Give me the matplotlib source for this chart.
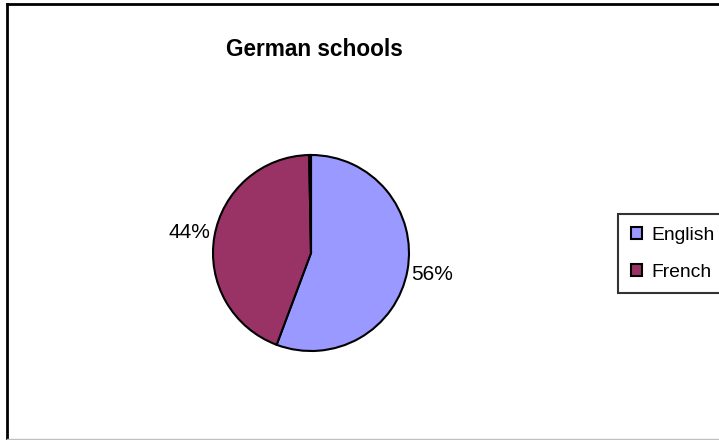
import matplotlib
matplotlib.use('Agg')
import matplotlib.pyplot as plt
from matplotlib.lines import Line2D

plt.rcParams['font.family'] = ['Liberation Sans', 'DejaVu Sans']

title = 'German schools'
categories = ['English', 'French', 'Other']
values = [55.7, 44.0, 0.3]
colors = ['#9999FF', '#993366', '#FFFFFF']
legend_count = 2

W, H = 719, 440
fig = plt.figure(figsize=(W / 100, H / 100), dpi=100)

cx, cy, r = 311, 253, 98
ax = fig.add_axes([(cx - r) / W, (H - cy - r) / H, 2 * r / W, 2 * r / H])


def fmt(p):
    return f'{p:.0f}%' if p >= 1 else ''


wedges, texts, autotexts = ax.pie(
    values, colors=colors, startangle=90, counterclock=False,
    autopct=fmt, pctdistance=1.26,
    wedgeprops=dict(edgecolor='black', linewidth=1.5),
    textprops=dict(fontsize=15, color='black'))
for w in wedges:
    w.set_clip_on(False)
ax.set_xlim(-1, 1)
ax.set_ylim(-1, 1)
ax.set_aspect('equal')
ax.axis('off')

fig.text(314 / W, 1 - 49 / H, title, ha='center', va='center',
         fontsize=16.3, fontweight='bold')

leg = fig.legend(wedges[:legend_count], categories[:legend_count],
                 loc='upper left', bbox_to_anchor=(618 / W, 1 - 214 / H),
                 borderaxespad=0, fontsize=13.9, frameon=True, fancybox=False,
                 edgecolor='black', handlelength=0.57, handleheight=0.57,
                 handletextpad=0.5, labelspacing=1.05, borderpad=0.65)
leg.get_frame().set_linewidth(1.5)
for h in leg.legend_handles:
    h.set_linewidth(1.5)

tf = fig.transFigure
fig.add_artist(Line2D([7 / W, 7 / W], [1 - 439 / H, 1 - 4 / H], color='black', lw=2, transform=tf))
fig.add_artist(Line2D([7 / W, 1], [1 - 4 / H, 1 - 4 / H], color='black', lw=2, transform=tf))
fig.add_artist(Line2D([7 / W, 1], [1 - 439 / H, 1 - 439 / H], color='#c0c0c0', lw=1, transform=tf))

fig.savefig('out.png', dpi=100)
